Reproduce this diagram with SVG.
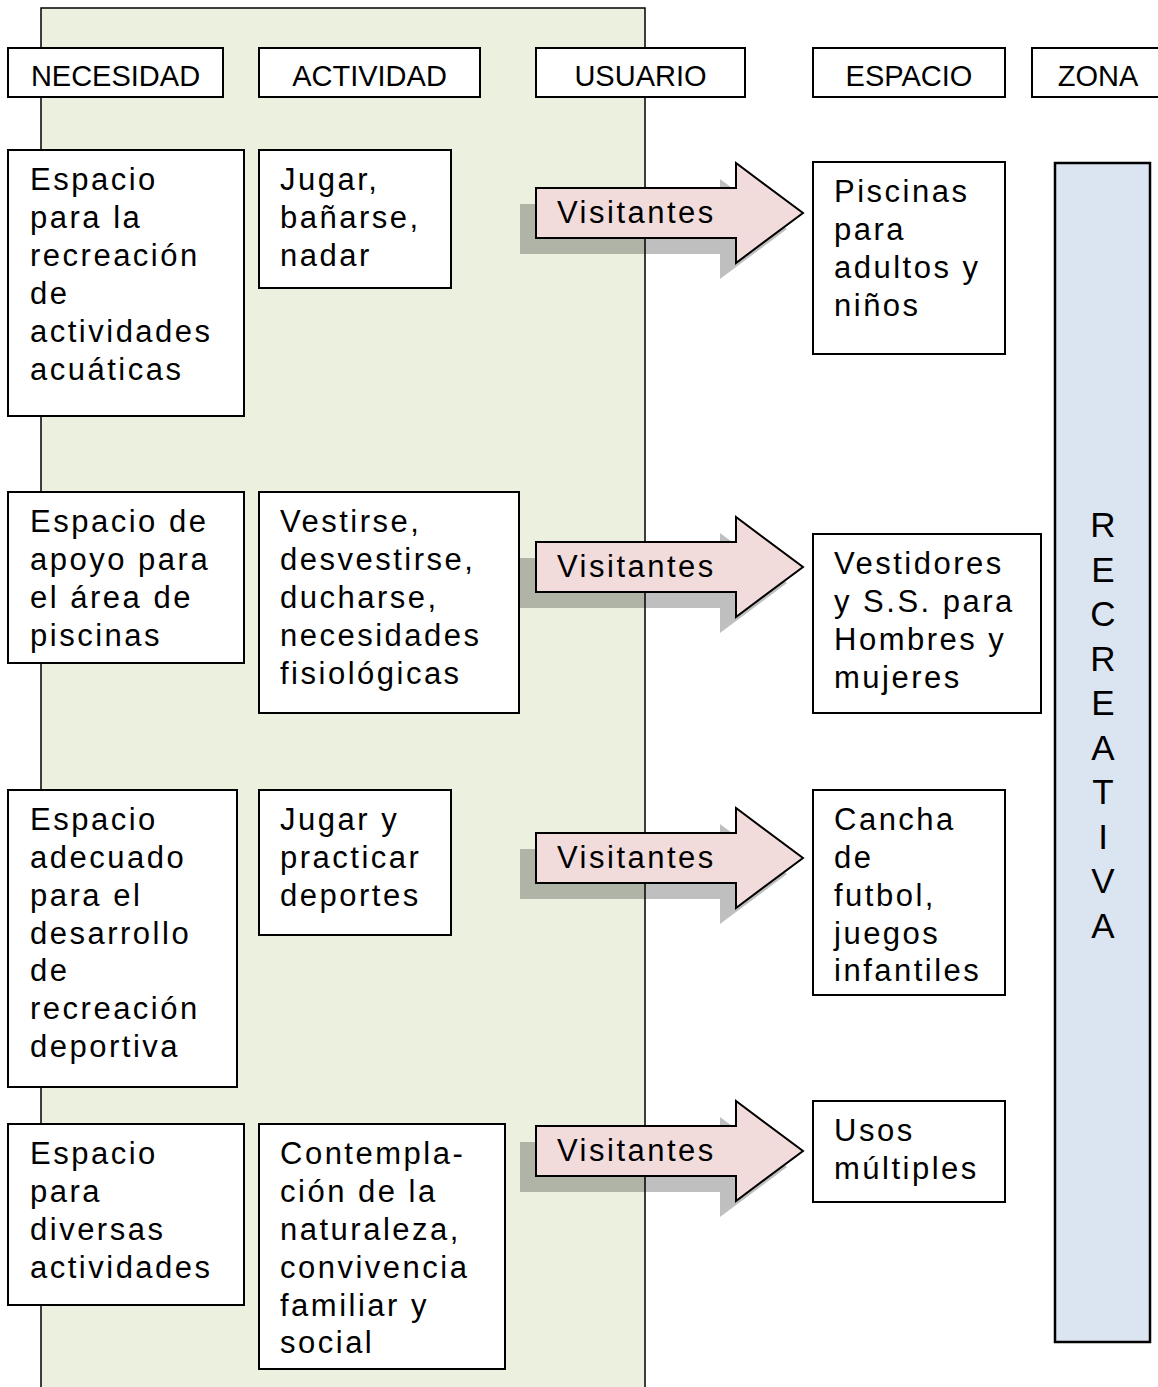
<svg xmlns="http://www.w3.org/2000/svg" width="1158" height="1387" viewBox="0 0 1158 1387">
<style>
.bg{fill:#EBF1DE;stroke:#000;stroke-width:1.5}
.box{fill:#fff;stroke:#000;stroke-width:2}
.hd{font-family:"Liberation Sans",Arial,sans-serif;font-size:29px;fill:#000;text-anchor:middle}
.t{font-family:"Liberation Sans",Arial,sans-serif;font-size:31px;letter-spacing:2.5px;fill:#000}
.arr{fill:#F2DCDB;stroke:#000;stroke-width:2;stroke-linejoin:miter}
.sh{fill:#000;fill-opacity:0.25}
.zona{fill:#DBE5F1;stroke:#000;stroke-width:2.5}
.zt{font-family:"Liberation Sans",Arial,sans-serif;font-size:35px;fill:#000;text-anchor:middle}
</style>
<defs>
<path id="arrow" d="M536,-25 H736 V-50 L803,0 L736,50 V25 H536 Z"/>
</defs>
<rect class="bg" x="41" y="8" width="604" height="1400"/>

<g id="headers">
<g id="h-necesidad"><rect class="box" x="8" y="48" width="215" height="49"/><text class="hd" x="115.5" y="86">NECESIDAD</text></g>
<g id="h-actividad"><rect class="box" x="259" y="48" width="221" height="49"/><text class="hd" x="369.5" y="86">ACTIVIDAD</text></g>
<g id="h-usuario"><rect class="box" x="536" y="48" width="209" height="49"/><text class="hd" x="640.5" y="86">USUARIO</text></g>
<g id="h-espacio"><rect class="box" x="813" y="48" width="192" height="49"/><text class="hd" x="909" y="86">ESPACIO</text></g>
<g id="h-zona"><rect class="box" x="1032" y="48" width="130" height="49"/><text class="hd" x="1098" y="86">ZONA</text></g>
</g>

<g id="connectors">
<g id="arrow1" transform="translate(0,213)"><use href="#arrow" class="sh" transform="translate(-16,16)"/><use href="#arrow" class="arr"/><text class="t" x="557" y="10">Visitantes</text></g>
<g id="arrow2" transform="translate(0,567)"><use href="#arrow" class="sh" transform="translate(-16,16)"/><use href="#arrow" class="arr"/><text class="t" x="557" y="10">Visitantes</text></g>
<g id="arrow3" transform="translate(0,858)"><use href="#arrow" class="sh" transform="translate(-16,16)"/><use href="#arrow" class="arr"/><text class="t" x="557" y="10">Visitantes</text></g>
<g id="arrow4" transform="translate(0,1151)"><use href="#arrow" class="sh" transform="translate(-16,16)"/><use href="#arrow" class="arr"/><text class="t" x="557" y="10">Visitantes</text></g>
</g>

<g id="nec1"><rect class="box" x="8" y="150" width="236" height="266"/>
<text class="t" x="30"><tspan x="30" y="190">Espacio</tspan><tspan x="30" y="228">para la</tspan><tspan x="30" y="266">recreación</tspan><tspan x="30" y="304">de</tspan><tspan x="30" y="342">actividades</tspan><tspan x="30" y="380">acuáticas</tspan></text></g>
<g id="act1"><rect class="box" x="259" y="150" width="192" height="138"/>
<text class="t"><tspan x="280" y="190">Jugar,</tspan><tspan x="280" y="228">bañarse,</tspan><tspan x="280" y="266">nadar</tspan></text></g>
<g id="esp1"><rect class="box" x="813" y="162" width="192" height="192"/>
<text class="t"><tspan x="834" y="202">Piscinas</tspan><tspan x="834" y="240">para</tspan><tspan x="834" y="278">adultos y</tspan><tspan x="834" y="316">niños</tspan></text></g>

<g id="nec2"><rect class="box" x="8" y="492" width="236" height="171"/>
<text class="t"><tspan x="30" y="532">Espacio de</tspan><tspan x="30" y="570">apoyo para</tspan><tspan x="30" y="608">el área de</tspan><tspan x="30" y="646">piscinas</tspan></text></g>
<g id="act2"><rect class="box" x="259" y="492" width="260" height="221"/>
<text class="t"><tspan x="280" y="532">Vestirse,</tspan><tspan x="280" y="570">desvestirse,</tspan><tspan x="280" y="608">ducharse,</tspan><tspan x="280" y="646">necesidades</tspan><tspan x="280" y="684">fisiológicas</tspan></text></g>
<g id="esp2"><rect class="box" x="813" y="534" width="228" height="179"/>
<text class="t"><tspan x="834" y="574">Vestidores</tspan><tspan x="834" y="612">y S.S. para</tspan><tspan x="834" y="650">Hombres y</tspan><tspan x="834" y="688">mujeres</tspan></text></g>

<g id="nec3"><rect class="box" x="8" y="790" width="229" height="297"/>
<text class="t"><tspan x="30" y="830">Espacio</tspan><tspan x="30" y="868">adecuado</tspan><tspan x="30" y="906">para el</tspan><tspan x="30" y="944">desarrollo</tspan><tspan x="30" y="981">de</tspan><tspan x="30" y="1019">recreación</tspan><tspan x="30" y="1057">deportiva</tspan></text></g>
<g id="act3"><rect class="box" x="259" y="790" width="192" height="145"/>
<text class="t"><tspan x="280" y="830">Jugar y</tspan><tspan x="280" y="868">practicar</tspan><tspan x="280" y="906">deportes</tspan></text></g>
<g id="esp3"><rect class="box" x="813" y="790" width="192" height="205"/>
<text class="t"><tspan x="834" y="830">Cancha</tspan><tspan x="834" y="868">de</tspan><tspan x="834" y="906">futbol,</tspan><tspan x="834" y="944">juegos</tspan><tspan x="834" y="981">infantiles</tspan></text></g>

<g id="nec4"><rect class="box" x="8" y="1124" width="236" height="181"/>
<text class="t"><tspan x="30" y="1164">Espacio</tspan><tspan x="30" y="1202">para</tspan><tspan x="30" y="1240">diversas</tspan><tspan x="30" y="1278">actividades</tspan></text></g>
<g id="act4"><rect class="box" x="259" y="1124" width="246" height="245"/>
<text class="t"><tspan x="280" y="1164">Contempla-</tspan><tspan x="280" y="1202">ción de la</tspan><tspan x="280" y="1240">naturaleza,</tspan><tspan x="280" y="1278">convivencia</tspan><tspan x="280" y="1316">familiar y</tspan><tspan x="280" y="1353">social</tspan></text></g>
<g id="esp4"><rect class="box" x="813" y="1101" width="192" height="101"/>
<text class="t"><tspan x="834" y="1141">Usos</tspan><tspan x="834" y="1179">múltiples</tspan></text></g>

<g id="zona"><rect class="zona" x="1055" y="163" width="95" height="1179"/>
<text class="zt"><tspan x="1103" y="537">R</tspan><tspan x="1103" y="582">E</tspan><tspan x="1103" y="626">C</tspan><tspan x="1103" y="671">R</tspan><tspan x="1103" y="715">E</tspan><tspan x="1103" y="760">A</tspan><tspan x="1103" y="804">T</tspan><tspan x="1103" y="849">I</tspan><tspan x="1103" y="893">V</tspan><tspan x="1103" y="938">A</tspan></text></g>
</svg>
